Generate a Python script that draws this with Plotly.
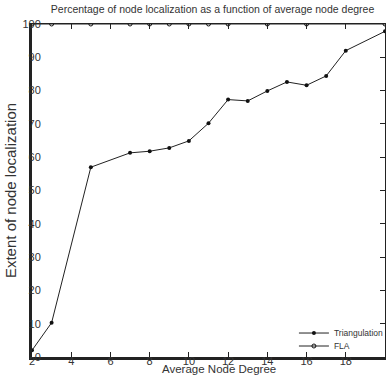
import plotly.graph_objects as go

tri_x = [2, 3, 5, 7, 8, 9, 10, 11, 12, 13, 14, 15, 16, 17, 18, 20]
tri_y = [2, 10.3, 57.0, 61.3, 61.8, 62.8, 64.9, 70.2, 77.3, 76.9, 79.9, 82.6, 81.6, 84.4, 92.0, 97.8]
fla_x = [2, 3, 5, 7, 8, 9, 10, 11, 12, 14, 16, 20]
fla_y = [100, 100, 100, 100, 100, 100, 100, 100, 100, 100, 100, 100]
x_ticks = [2, 4, 6, 8, 10, 12, 14, 16, 18, 20]
y_ticks = [0, 10, 20, 30, 40, 50, 60, 70, 80, 90, 100]

FONT = "Liberation Sans Narrow, Liberation Sans, Arial, sans-serif"
TXT = "#333"

fig = go.Figure()
fig.add_trace(go.Scatter(x=tri_x, y=tri_y, name="Triangulation", mode="lines+markers",
                         legend="legend",
                         line=dict(color="#222", width=1),
                         marker=dict(symbol="circle", size=4, color="#111")))
fig.add_trace(go.Scatter(x=fla_x, y=fla_y, name="FLA", mode="lines+markers",
                         legend="legend2",
                         line=dict(color="#222", width=1),
                         marker=dict(symbol="circle-open", size=4, color="#111", line=dict(width=1))))

leg_common = dict(xanchor="left", yanchor="middle", bgcolor="rgba(0,0,0,0)",
                  font=dict(size=8.5, family=FONT, color=TXT), itemwidth=30)
fig.update_layout(
    width=390, height=385,
    margin=dict(l=32, r=5, t=24, b=28, autoexpand=False),
    paper_bgcolor="white", plot_bgcolor="white",
    font=dict(family=FONT, color=TXT),
    title=dict(text="Percentage of node localization as a function of average node degree",
               x=0.545, xanchor="center", y=0.977, yanchor="middle",
               font=dict(size=10.5, family=FONT, color=TXT)),
    showlegend=True,
    legend=dict(x=0.742, y=0.072, **leg_common),
    legend2=dict(x=0.742, y=0.033, **leg_common),
    annotations=[dict(text="Average Node Degree", xref="paper", yref="paper",
                      x=0.53, y=-0.036, xanchor="center", yanchor="middle", showarrow=False,
                      font=dict(size=11.5, family=FONT, color=TXT))],
)
fig.update_xaxes(range=[2, 20], tickvals=x_ticks, showgrid=False, zeroline=False,
                 showline=True, linecolor="#222", linewidth=3, mirror=False,
                 ticks="inside", ticklen=5, tickcolor="#222",
                 tickfont=dict(size=11, family=FONT, color=TXT),
                 ticklabelstandoff=-8)
fig.update_yaxes(range=[0, 100], tickvals=y_ticks, showgrid=False, zeroline=False,
                 showline=True, linecolor="#222", linewidth=3,
                 ticks="", tickfont=dict(size=11, family=FONT, color=TXT),
                 ticklabelstandoff=-14,
                 title=dict(text="Extent of node localization", standoff=3,
                            font=dict(size=15, family=FONT, color=TXT)))
# right & top frame lines with inward ticks
fig.add_trace(go.Scatter(x=[None], y=[None], xaxis="x2", yaxis="y2", showlegend=False))
fig.update_layout(
    xaxis2=dict(overlaying="x", side="top", range=[2, 20], tickvals=x_ticks, showticklabels=False,
                showline=True, linecolor="#222", linewidth=1, ticks="inside", ticklen=5,
                tickcolor="#222", showgrid=False, zeroline=False),
    yaxis2=dict(overlaying="y", side="right", range=[0, 100], tickvals=y_ticks, showticklabels=False,
                showline=True, linecolor="#222", linewidth=1, ticks="inside", ticklen=5,
                tickcolor="#222", showgrid=False, zeroline=False),
)
fig.write_html("out.html", config={"displayModeBar": False},
               post_script="document.body.style.margin='0';document.body.style.padding='0';")
